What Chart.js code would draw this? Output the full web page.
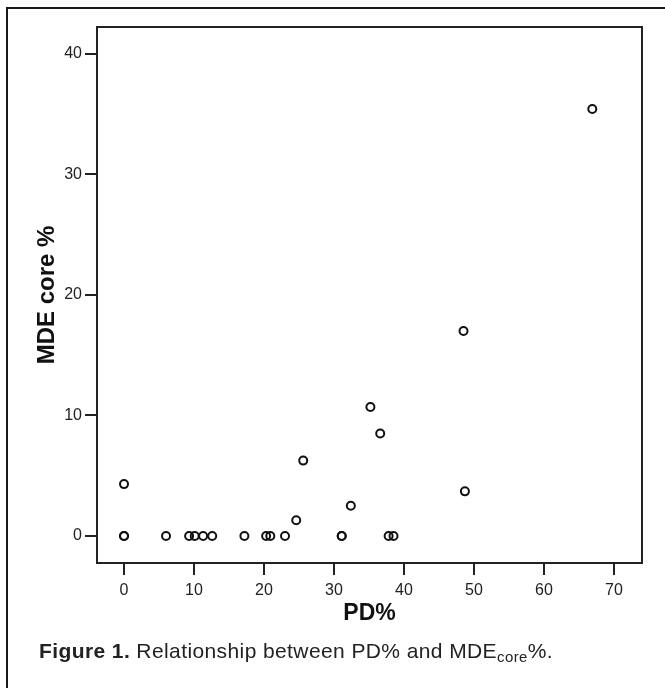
<!DOCTYPE html>
<html>
<head>
<meta charset="utf-8">
<script src="https://cdn.jsdelivr.net/npm/chart.js@4.4.0/dist/chart.umd.min.js"></script>
<style>
    html, body { margin: 0; padding: 0; background: #fff; }
    #wrap { position: relative; width: 665px; height: 688px; overflow: hidden; }
    #frame { position: absolute; left: 6px; top: 7px; width: 680px; height: 700px; border: 2px solid #1a1a1a; box-sizing: border-box; }
    #chart { position: absolute; left: 0; top: 0; }
    #caption { position: absolute; left: 39px; top: 639px; font-family: "Liberation Sans", Arial, sans-serif; font-size: 21px; letter-spacing: 0.4px; line-height: 24px; color: #222; white-space: nowrap; }
    #caption b { font-weight: bold; }
    #caption sub { font-size: 15px; vertical-align: -4px; line-height: 0; }
</style>
</head>
<body>
<div id="wrap">
    <div id="frame"></div>
    <canvas id="chart" width="665" height="688"></canvas>
    <div id="caption"><b>Figure 1.</b> Relationship between PD% and MDE<sub>core</sub>%.</div>
</div>
<script>
// PD% (x) and MDE core % (y)
var pdValues  = [0, 0, 0, 6, 9.3, 10.1, 11.3, 12.6, 17.2, 20.3, 20.9, 23, 24.6, 25.6, 31.1, 31.1, 32.4, 35.2, 36.6, 37.8, 38.5, 48.5, 48.7, 66.9];
var mdeValues = [0, 0, 4.3, 0, 0, 0, 0, 0, 0, 0, 0, 0, 1.3, 6.25, 0, 0, 2.5, 10.7, 8.5, 0, 0, 17, 3.7, 35.4];

var xTicks = [0, 10, 20, 30, 40, 50, 60, 70];
var yTicks = [0, 10, 20, 30, 40];

var fontFamily = "'Liberation Sans', Arial, Helvetica, sans-serif";
var ink = '#222';

var points = pdValues.map(function(x, i) {
    return { x: x, y: mdeValues[i] };
});

// full box around the plot area
var plotBox = {
    id: 'plotBox',
    beforeDatasetsDraw: function(chart) {
        var a = chart.chartArea, ctx = chart.ctx;
        ctx.save();
        ctx.strokeStyle = ink;
        ctx.lineWidth = 2;
        ctx.strokeRect(a.left, a.top, a.right - a.left, a.bottom - a.top);
        ctx.restore();
    }
};

new Chart(document.getElementById('chart'), {
    type: 'scatter',
    data: {
        datasets: [{
            data: points,
            pointRadius: 4,
            pointBorderWidth: 2,
            pointBorderColor: '#111',
            pointBackgroundColor: 'transparent',
            showLine: false
        }]
    },
    options: {
        responsive: false,
        animation: false,
        layout: { padding: { left: 10, top: 27, right: 23, bottom: 61 } },
        plugins: {
            legend: { display: false },
            tooltip: { enabled: false }
        },
        scales: {
            x: {
                type: 'linear',
                min: -3.86,
                max: 74,
                afterBuildTicks: function(s) { s.ticks = xTicks.map(function(v) { return { value: v }; }); },
                afterFit: function(s) { s.height = 64; },
                grid: { drawOnChartArea: false, drawTicks: true, tickLength: 12, color: ink, lineWidth: 2 },
                border: { display: false },
                ticks: { color: ink, padding: 6, maxRotation: 0, font: { family: fontFamily, size: 16 } },
                title: { display: true, text: 'PD%', color: '#111', padding: { top: 0, bottom: 0 }, font: { family: fontFamily, size: 23, weight: 'bold' } }
            },
            y: {
                type: 'linear',
                min: -2.24,
                max: 42.2,
                afterBuildTicks: function(s) { s.ticks = yTicks.map(function(v) { return { value: v }; }); },
                afterFit: function(s) { s.width = 87; },
                grid: { drawOnChartArea: false, drawTicks: true, tickLength: 12, color: ink, lineWidth: 2 },
                border: { display: false },
                ticks: { color: ink, padding: 3, font: { family: fontFamily, size: 16 } },
                title: { display: true, text: 'MDE core %', color: '#111', padding: { top: 23, bottom: 0 }, font: { family: fontFamily, size: 24, weight: 'bold' } }
            }
        }
    },
    plugins: [plotBox]
});
</script>
</body>
</html>
